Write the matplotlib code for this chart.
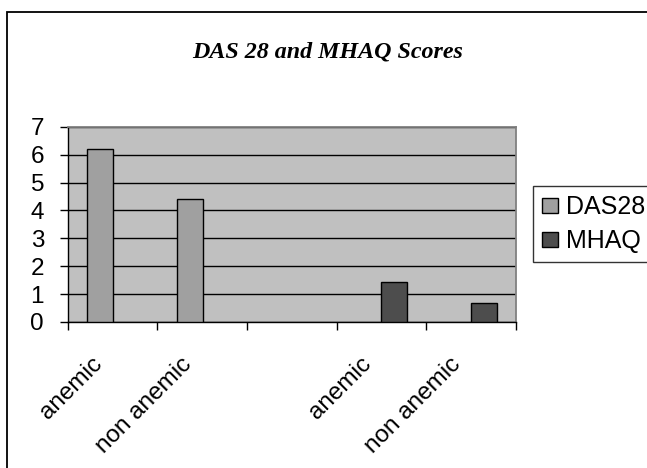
import numpy as np
import matplotlib
matplotlib.use("Agg")
import matplotlib.pyplot as plt
import matplotlib.transforms as mtransforms
from matplotlib.patches import Rectangle

# =========================
# Data (nan = no bar drawn for that series)
# =========================
categories = ["anemic", "non anemic", "", "anemic", "non anemic"]
das28 = [6.2, 4.4, np.nan, np.nan, np.nan]
mhaq = [np.nan, np.nan, np.nan, 1.45, 0.68]
y_ticks = [0, 1, 2, 3, 4, 5, 6, 7]

# =========================
# Style
# =========================
plt.rcParams["font.family"] = ["Liberation Sans", "DejaVu Sans"]
W, H = 647, 468
dpi = 100
tick_fontsize = 17.5
color_das = "#a0a0a0"
color_mhaq = "#4d4d4d"
plot_bg = "#c0c0c0"

fig = plt.figure(figsize=(W / dpi, H / dpi), dpi=dpi)
fig.patch.set_facecolor("white")

# outer chart border (clipped on the right and bottom, as in the source)
fig.patches.append(Rectangle((7 / W, -0.05), 1.2, 1 - 12 / H + 0.05,
                             transform=fig.transFigure, fill=False,
                             edgecolor="black", linewidth=1.3))

left, right, top, bottom = 67.7, 516, 126.7, 322
ax = fig.add_axes([left / W, 1 - bottom / H, (right - left) / W, (bottom - top) / H])
ax.set_facecolor(plot_bg)

x = np.arange(len(categories))
width = 0.29
off = 0.14
ax.bar(x - off, das28, width, color=color_das, edgecolor="black", linewidth=1.0,
       label="DAS28", zorder=3)
ax.bar(x + off, mhaq, width, color=color_mhaq, edgecolor="black", linewidth=1.0,
       label="MHAQ", zorder=3)

ax.set_xlim(-0.5, len(categories) - 0.5)
ax.set_ylim(0, 7)
ax.set_yticks(y_ticks)
ax.yaxis.grid(True, color="black", linewidth=1.0, zorder=1)
ax.set_axisbelow(True)

for s in ["top", "right"]:
    ax.spines[s].set_color("#808080")
    ax.spines[s].set_linewidth(1.3)
for s in ["left", "bottom"]:
    ax.spines[s].set_color("black")
    ax.spines[s].set_linewidth(1.0)

ax.tick_params(axis="y", direction="out", length=6, width=1.0, pad=11,
               labelsize=tick_fontsize)

# category boundary ticks
ax.set_xticks(np.arange(-0.5, len(categories), 1.0), minor=True)
ax.tick_params(axis="x", which="minor", direction="out", length=6, width=1.0)
ax.set_xticks(x)
ax.set_xticklabels(categories, rotation=45, ha="right", va="center",
                   rotation_mode="anchor", fontsize=tick_fontsize)
ax.tick_params(axis="x", which="major", length=0, pad=28)
shift = mtransforms.ScaledTranslation(-14 / dpi, 0, fig.dpi_scale_trans)
for lab in ax.get_xticklabels():
    lab.set_transform(lab.get_transform() + shift)

fig.text(328 / W, 1 - 52 / H, "DAS 28 and MHAQ Scores", ha="center", va="center",
         fontsize=17.3, fontweight="bold", fontstyle="italic",
         family=["Liberation Serif", "DejaVu Serif"])

leg = fig.legend(loc="upper left", bbox_to_anchor=(533 / W, 1 - 186 / H),
                 fontsize=18, frameon=True, fancybox=False,
                 edgecolor="black", handlelength=0.62, handleheight=0.55,
                 handletextpad=0.33, borderpad=0.36, labelspacing=0.42,
                 borderaxespad=0)
leg.get_frame().set_linewidth(1.0)

fig.savefig("out.png", dpi=dpi)
